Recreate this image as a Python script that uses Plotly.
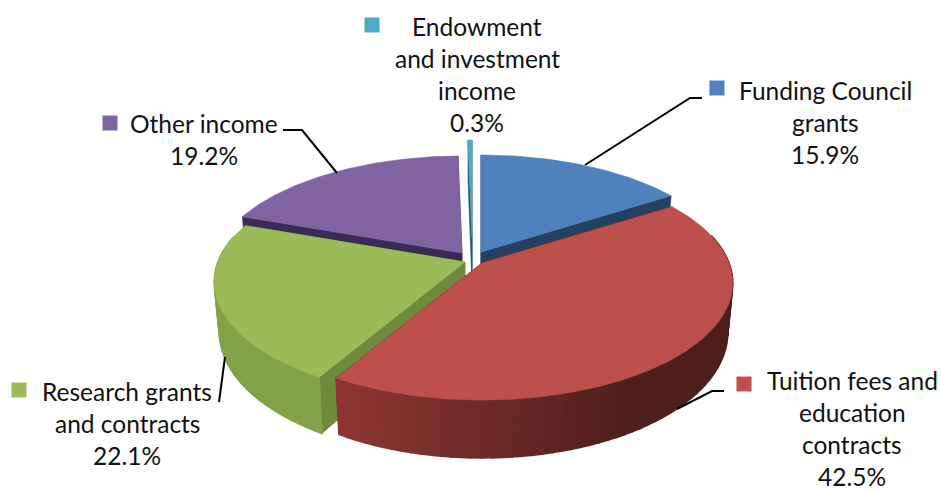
import math
import plotly.graph_objects as go

# ---- data ----
categories = ["Funding Council grants", "Tuition fees and education contracts",
              "Research grants and contracts", "Other income",
              "Endowment and investment income"]
shares = [15.9, 42.5, 22.1, 19.2, 0.3]
share_labels = ["15.9%", "42.5%", "22.1%", "19.2%", "0.3%"]
label_lines = [["Funding Council", "grants"],
               ["Tuition fees and", "education", "contracts"],
               ["Research grants", "and contracts"],
               ["Other income"],
               ["Endowment", "and investment", "income"]]

# ---- style / layout ----
top_colors = ["#4F81BD", "#BD4F4C", "#9BBB59", "#8064A2", "#4BACC6"]
face_colors = ["#254061", "#4F1F1D", "#6F8A3C", "#3A2A55", "#205867"]
side_left = [(37, 64, 97), (142, 54, 53), (130, 162, 72), (58, 42, 85), (32, 88, 103)]
side_right = [(37, 64, 97), (78, 31, 28), (112, 144, 62), (58, 42, 85), (32, 88, 103)]
pull = [(9, -5), (10, 6), (-7, 5), (-10, -4), (0, -20)]
draw_order = [4, 3, 0, 2, 1]
centre = (472, 257)
A, B, P, DEPTH, BOTTOM_SCALE = 247.0, 113.6, 0.171, 48.0, 0.98

FONT = "Lato"
FS = 24.5
LINE_H = 32
blocks = [  # centre x, first line y, marker x, marker y, leader line
    dict(cx=825, y=90, mx=717, my=88, lead=[(585, 165), (690, 98), (702, 98)]),
    dict(cx=852, y=380, mx=744, my=384, lead=[(677, 409), (712, 391), (724, 391)]),
    dict(cx=127, y=391, mx=19, my=390, lead=[(225, 357), (219, 402)]),
    dict(cx=204, y=123, mx=110, my=123, lead=[(337, 173), (302, 130), (283, 130)]),
    dict(cx=477, y=26, mx=372, my=25, lead=None),
]


def project(theta, apex, bottom=False):
    x, y = math.sin(theta), math.cos(theta)
    den = 1 + P * y
    X, Y = A * x / den, -B * y / den
    if bottom:
        return apex[0] + X * BOTTOM_SCALE, apex[1] + Y + DEPTH / den
    return apex[0] + X, apex[1] + Y


def apex_bottom(apex):
    return apex[0], apex[1] + DEPTH


def poly(fig, pts, color, lw=0.6):
    xs = [p[0] for p in pts] + [pts[0][0]]
    ys = [p[1] for p in pts] + [pts[0][1]]
    fig.add_trace(go.Scatter(x=xs, y=ys, mode="lines", fill="toself", fillcolor=color,
                             line=dict(color=color, width=lw), hoverinfo="skip",
                             showlegend=False))


fig = go.Figure()
edges = [0.0]
for s in shares:
    edges.append(edges[-1] + s / sum(shares) * 2 * math.pi)

for i in draw_order:
    a0, a1 = edges[i], edges[i + 1]
    apex = (centre[0] + pull[i][0], centre[1] + pull[i][1])
    ab = apex_bottom(apex)
    # radial faces
    for ang in (a0, a1):
        poly(fig, [apex, project(ang, apex), project(ang, apex, True), ab], face_colors[i])
    # outer wall strips
    n = max(2, int((a1 - a0) / math.radians(2)))
    for k in range(n):
        t0 = a0 + (a1 - a0) * k / n
        t1 = a0 + (a1 - a0) * (k + 1) / n
        if math.cos((t0 + t1) / 2) > 0.25:
            continue
        px = project((t0 + t1) / 2, apex)[0]
        f = min(1.0, max(0.0, (px - (apex[0] - 150)) / 300.0))
        c = tuple(round(side_left[i][j] + (side_right[i][j] - side_left[i][j]) * f) for j in range(3))
        poly(fig, [project(t0, apex), project(t1, apex),
                   project(t1, apex, True), project(t0, apex, True)], "rgb(%d,%d,%d)" % c, 1.6)
    # top face
    m = max(2, int((a1 - a0) / math.radians(1)))
    arc = [project(a0 + (a1 - a0) * k / m, apex) for k in range(m + 1)]
    poly(fig, [apex] + arc, top_colors[i])

# leader lines, legend keys and labels
for i, b in enumerate(blocks):
    if b["lead"]:
        fig.add_trace(go.Scatter(x=[p[0] for p in b["lead"]], y=[p[1] for p in b["lead"]],
                                 mode="lines", line=dict(color="black", width=2),
                                 hoverinfo="skip", showlegend=False))
    fig.add_trace(go.Scatter(x=[b["mx"]], y=[b["my"]], mode="markers",
                             marker=dict(symbol="square", size=15, color=top_colors[i]),
                             hoverinfo="skip", showlegend=False))
    lines = label_lines[i] + [share_labels[i]]
    for j, text in enumerate(lines):
        fig.add_annotation(x=b["cx"], y=b["y"] + j * LINE_H, text=text, showarrow=False,
                           xanchor="center", yanchor="middle",
                           font=dict(family=FONT, size=FS, color="#111111"))

fig.update_layout(
    width=941, height=491, margin=dict(l=0, r=0, t=0, b=0),
    paper_bgcolor="white", plot_bgcolor="white", showlegend=False,
    xaxis=dict(range=[0, 941], visible=False, fixedrange=True),
    yaxis=dict(range=[491, 0], visible=False, fixedrange=True),
)
fig.write_html("out.html", config=dict(displayModeBar=False),
               post_script="document.body.style.margin='0';document.documentElement.style.overflow='hidden';")
